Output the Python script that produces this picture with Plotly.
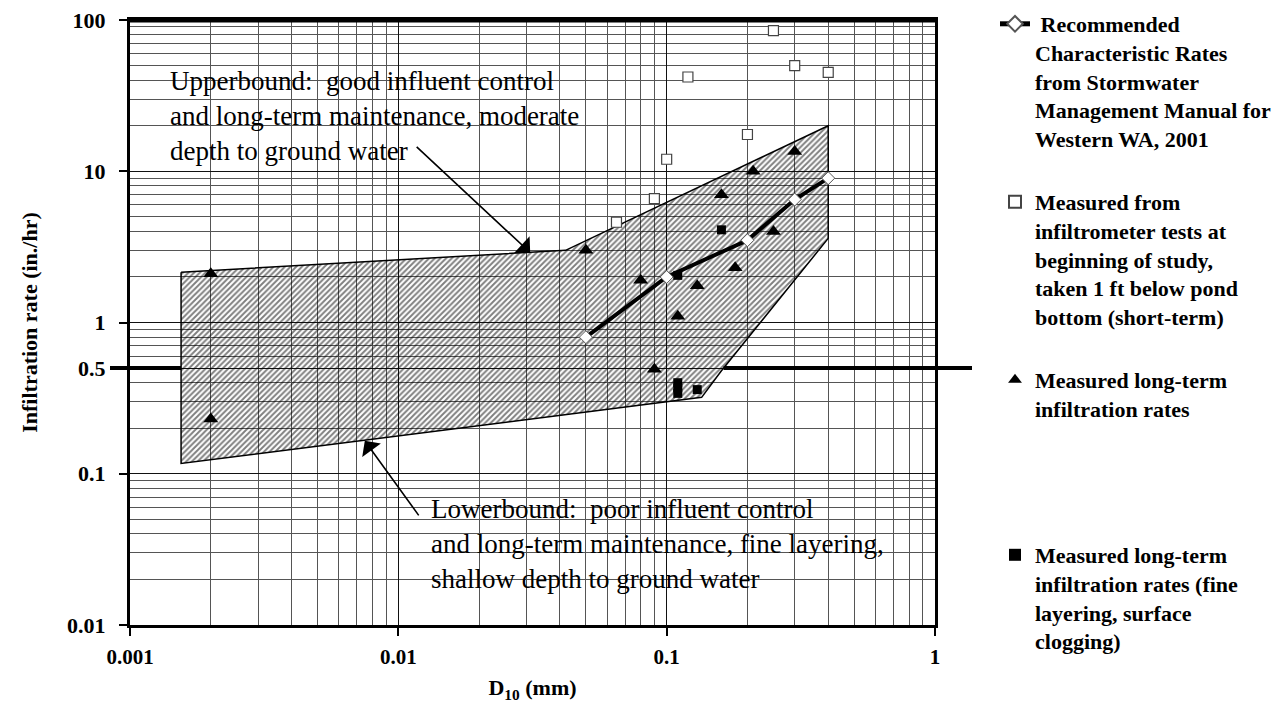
import numpy as np
import plotly.graph_objects as go

# ---------------- data ----------------
rec_x = [0.05, 0.1, 0.2, 0.3, 0.4]
rec_y = [0.8, 2.0, 3.5, 6.5, 9.0]

short_x = [0.065, 0.09, 0.1, 0.12, 0.2, 0.25, 0.3, 0.4]
short_y = [4.6, 6.6, 12.0, 42.0, 17.5, 85.0, 50.0, 45.0]

long_x = [0.002, 0.002, 0.05, 0.08, 0.09, 0.11, 0.13, 0.16, 0.18, 0.21, 0.25, 0.3]
long_y = [2.1, 0.23, 3.0, 1.9, 0.49, 1.1, 1.75, 7.0, 2.3, 10.0, 4.0, 13.5]

fine_x = [0.11, 0.16, 0.11, 0.11, 0.11, 0.13]
fine_y = [2.05, 4.1, 0.40, 0.37, 0.34, 0.36]

band_x = [0.00155, 0.042, 0.4, 0.4, 0.16, 0.135, 0.00155, 0.00155]
band_y = [2.15, 3.0, 20.0, 3.6, 0.48, 0.32, 0.117, 2.15]

threshold = 0.5

# callout arrow heads (data units)
upper_arrow_pt = (0.031, 2.9)
lower_arrow_pt = (0.0075, 0.165)

x_ticks = [0.001, 0.01, 0.1, 1]
x_labels = ["0.001", "0.01", "0.1", "1"]
y_ticks = [0.01, 0.1, 0.5, 1, 10, 100]
y_labels = ["0.01", "0.1", "0.5", "1", "10", "100"]

X_RANGE = (0.001, 1)
Y_RANGE = (0.01, 100)

FONT = "Liberation Serif"

# page body adds an 8px margin around the figure
BODY = 8
FIG_W, FIG_H = 1283 - 2 * BODY, 713 - 2 * BODY
PLOT_L, PLOT_R, PLOT_T, PLOT_B = 130, 935, 20, 625   # window pixels of plot area


def minor_vals(lo, hi):
    out = []
    for e in range(int(np.log10(lo)), int(np.log10(hi))):
        for k in range(2, 10):
            out.append(k * 10.0 ** e)
    return out


x_minor = minor_vals(*X_RANGE)
y_minor = minor_vals(*Y_RANGE)


def crossings(xs, ys, yv):
    lx, ly, ty = np.log10(xs), np.log10(ys), np.log10(yv)
    res = []
    for i in range(len(xs) - 1):
        y0, y1 = ly[i], ly[i + 1]
        if (y0 - ty) * (y1 - ty) < 0:
            t = (ty - y0) / (y1 - y0)
            res.append(10 ** (lx[i] + t * (lx[i + 1] - lx[i])))
    return sorted(res)


def to_paper(x):
    a, b = np.log10(X_RANGE[0]), np.log10(X_RANGE[1])
    return (np.log10(x) - a) / (b - a)


def px_to_paper_x(p):
    return (p - PLOT_L) / float(PLOT_R - PLOT_L)


def px_to_paper_y(p):
    return (PLOT_B - p) / float(PLOT_B - PLOT_T)


cx = crossings(band_x, band_y, threshold)

fig = go.Figure()

fig.add_trace(go.Scatter(
    x=band_x, y=band_y, mode="lines", fill="toself",
    fillcolor="rgba(255,255,255,0)",
    fillpattern=dict(shape="/", size=4, solidity=0.48, fgcolor="black",
                     bgcolor="rgba(255,255,255,0)"),
    line=dict(color="black", width=1.5), showlegend=False, hoverinfo="skip"))

fig.add_trace(go.Scatter(
    x=rec_x, y=rec_y, mode="lines+markers",
    name=" Recommended<br>Characteristic Rates<br>from Stormwater<br>Management Manual for<br>Western WA, 2001",
    line=dict(color="black", width=4),
    marker=dict(symbol="diamond", size=10, color="white", line=dict(color="#555", width=1)),
    legend="legend"))

fig.add_trace(go.Scatter(
    x=short_x, y=short_y, mode="markers",
    name="Measured from<br>infiltrometer tests at<br>beginning of study,<br>taken 1 ft below pond<br>bottom (short-term)",
    marker=dict(symbol="square", size=10, color="white", line=dict(color="#444", width=1.2)),
    legend="legend2"))

fig.add_trace(go.Scatter(
    x=long_x, y=long_y, mode="markers",
    name="Measured long-term<br>infiltration rates",
    marker=dict(symbol="triangle-up", size=13, color="black"),
    legend="legend3"))

fig.add_trace(go.Scatter(
    x=fine_x, y=fine_y, mode="markers",
    name="Measured long-term<br>infiltration rates (fine<br>layering, surface<br>clogging)",
    marker=dict(symbol="square", size=9, color="black"),
    legend="legend4"))

shapes = []
thick = dict(type="line", xref="paper", yref="y", y0=threshold, y1=threshold,
             line=dict(color="black", width=4), layer="above")
shapes.append(dict(thick, x0=px_to_paper_x(110), x1=to_paper(cx[0])))
shapes.append(dict(thick, x0=to_paper(cx[-1]), x1=px_to_paper_x(972)))

# heavier top frame line
shapes.append(dict(type="line", xref="paper", yref="paper", x0=0, x1=1, y0=1, y1=1,
                   line=dict(color="black", width=5), layer="above"))

shapes.append(dict(type="rect", xref="paper", yref="paper",
                   x0=px_to_paper_x(155), x1=px_to_paper_x(606),
                   y0=px_to_paper_y(171), y1=px_to_paper_y(55),
                   fillcolor="white", line=dict(width=0), layer="between"))
shapes.append(dict(type="rect", xref="paper", yref="paper",
                   x0=px_to_paper_x(412), x1=px_to_paper_x(915),
                   y0=px_to_paper_y(596), y1=px_to_paper_y(487),
                   fillcolor="white", line=dict(width=0), layer="between"))

annotations = [
    dict(xref="paper", yref="paper", x=px_to_paper_x(168), y=px_to_paper_y(64),
         xanchor="left", yanchor="top", align="left", showarrow=False,
         text="Upperbound:  good influent control<br>and long-term maintenance, moderate<br>depth to ground water",
         font=dict(family=FONT, size=27, color="black")),
    dict(xref="paper", yref="paper", x=px_to_paper_x(429), y=px_to_paper_y(492),
         xanchor="left", yanchor="top", align="left", showarrow=False,
         text="Lowerbound:  poor influent control<br>and long-term maintenance, fine layering,<br>shallow depth to ground water",
         font=dict(family=FONT, size=27, color="black")),
    dict(xref="x", yref="y", x=np.log10(upper_arrow_pt[0]), y=np.log10(upper_arrow_pt[1]),
         ax=-115, ay=-107, showarrow=True, arrowhead=1, arrowsize=2.4, arrowwidth=1.6,
         arrowcolor="black", text=""),
    dict(xref="x", yref="y", x=np.log10(lower_arrow_pt[0]), y=np.log10(lower_arrow_pt[1]),
         ax=55, ay=76, showarrow=True, arrowhead=1, arrowsize=2.4, arrowwidth=1.6,
         arrowcolor="black", text=""),
]

legend_font = dict(family=FONT, size=22, color="black", weight="bold")
leg_common = dict(x=px_to_paper_x(995), xanchor="left", yanchor="top", font=legend_font,
                  valign="top", bgcolor="rgba(0,0,0,0)", borderwidth=0,
                  itemsizing="constant")

fig.update_layout(
    width=FIG_W, height=FIG_H,
    margin=dict(l=PLOT_L - BODY, r=FIG_W - (PLOT_R - BODY),
                t=PLOT_T - BODY, b=FIG_H - (PLOT_B - BODY), autoexpand=False),
    paper_bgcolor="white", plot_bgcolor="white",
    font=dict(family=FONT, color="black"),
    shapes=shapes, annotations=annotations,
    legend=dict(leg_common, y=px_to_paper_y(3)),
    legend2=dict(leg_common, y=px_to_paper_y(181)),
    legend3=dict(leg_common, y=px_to_paper_y(359)),
    legend4=dict(leg_common, y=px_to_paper_y(534)),
)

fig.update_xaxes(
    type="log", range=[np.log10(X_RANGE[0]), np.log10(X_RANGE[1])],
    tickmode="array", tickvals=x_ticks, ticktext=["<b>%s</b>" % t for t in x_labels],
    tickfont=dict(family=FONT, size=21, color="black"),
    ticks="outside", ticklen=8, tickwidth=2, tickcolor="black", ticklabelstandoff=3,
    ticklabeloverflow="allow",
    showline=True, linewidth=3, linecolor="black", mirror=True,
    showgrid=True, gridcolor="#111", gridwidth=1,
    minor=dict(tickmode="array", tickvals=x_minor, showgrid=True, gridcolor="#555",
               gridwidth=1, ticks=""),
    title=dict(text="<b>D<sub>10</sub> (mm)</b>", font=dict(family=FONT, size=22, color="black"),
               standoff=12),
    zeroline=False,
)
fig.update_yaxes(
    type="log", range=[np.log10(Y_RANGE[0]), np.log10(Y_RANGE[1])],
    tickmode="array", tickvals=y_ticks, ticktext=["<b>%s</b>" % t for t in y_labels],
    tickfont=dict(family=FONT, size=22, color="black"),
    ticks="outside", ticklen=8, tickwidth=2, tickcolor="black", ticklabelstandoff=9,
    ticklabeloverflow="allow",
    showline=True, linewidth=3, linecolor="black", mirror=True,
    showgrid=True, gridcolor="#111", gridwidth=1,
    minor=dict(tickmode="array", tickvals=y_minor, showgrid=True, gridcolor="#555",
               gridwidth=1, ticks=""),
    title=dict(text="<b>Infiltration rate (in./hr)</b>", font=dict(family=FONT, size=22, color="black"),
               standoff=24),
    zeroline=False,
)

fig.write_html("out.html")
